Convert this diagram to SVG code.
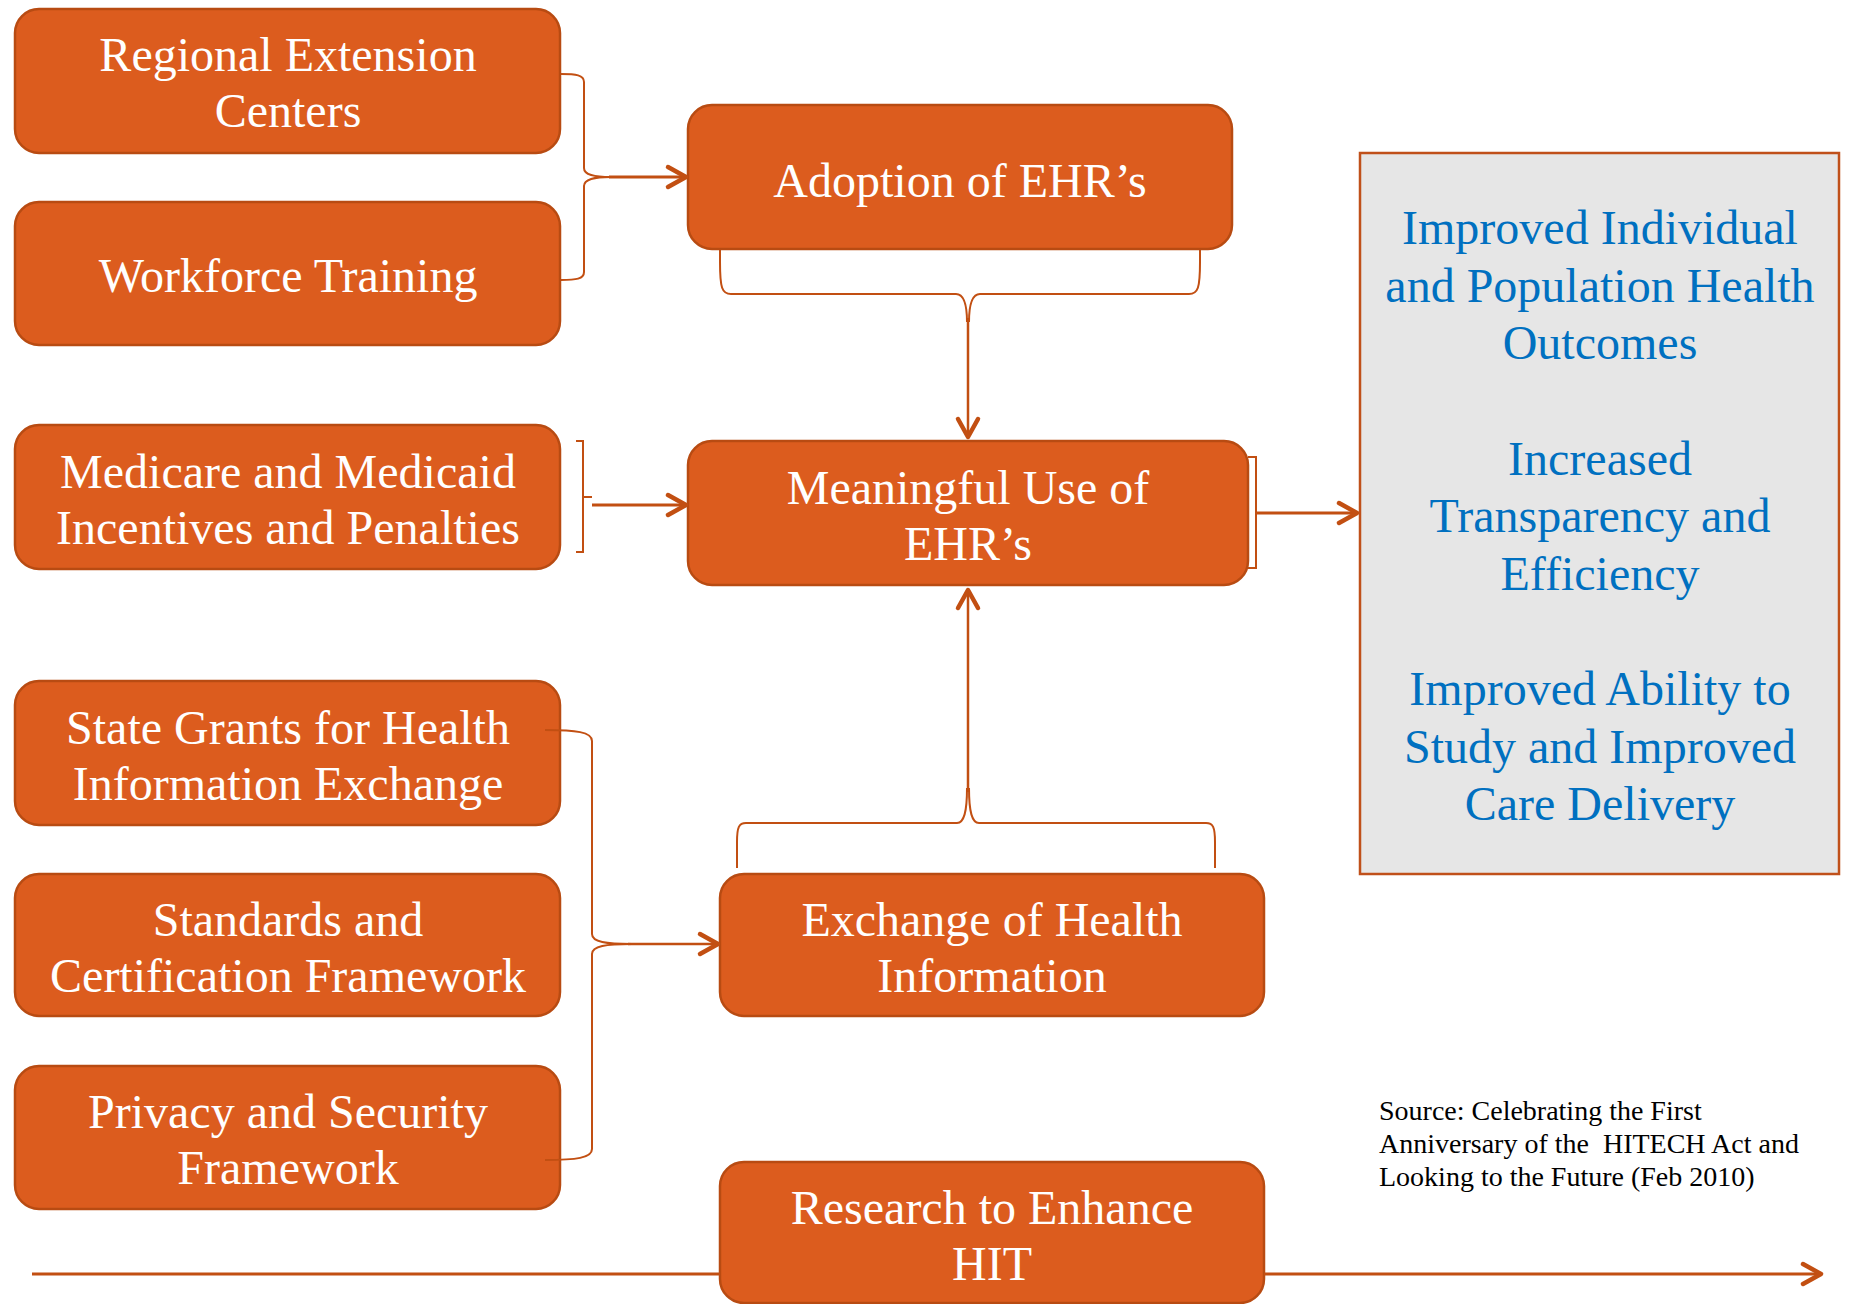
<svg xmlns="http://www.w3.org/2000/svg" width="1851" height="1304" viewBox="0 0 1851 1304">
<style>
.box{fill:#DC5C1E;stroke:#B84B12;stroke-width:2.5}
.out{fill:#E6E6E6;stroke:#C0501A;stroke-width:2.5}
.t{font-family:"Liberation Serif","Times New Roman",serif;font-size:48px;fill:#FFFFFF;text-anchor:middle}
.b{font-family:"Liberation Serif","Times New Roman",serif;font-size:48px;fill:#0070C0;text-anchor:middle}
.src{font-family:"Liberation Serif","Times New Roman",serif;font-size:28px;fill:#000000;white-space:pre}
.br{fill:none;stroke:#C24F12;stroke-width:2}
.ar{fill:none;stroke:#C24F12;stroke-width:3;marker-end:url(#arr)}
</style>
<defs>
<marker id="arr" markerUnits="userSpaceOnUse" markerWidth="30" markerHeight="30" viewBox="-25 -15 30 30" refX="0" refY="0" orient="auto" overflow="visible">
<path d="M-19,-10 L-1,0 L-19,10" fill="none" stroke="#C24F12" stroke-width="4.5" stroke-linecap="round" stroke-linejoin="round"/>
</marker>
</defs>
<rect width="1851" height="1304" fill="#FFFFFF"/>

<g id="regional"><rect class="box" x="15" y="9" width="545" height="144" rx="24"/><text class="t" x="288" y="71">Regional Extension</text><text class="t" x="288" y="127">Centers</text></g>
<g id="workforce"><rect class="box" x="15" y="202" width="545" height="143" rx="24"/><text class="t" x="288" y="292">Workforce Training</text></g>
<g id="medicare"><rect class="box" x="15" y="425" width="545" height="144" rx="24"/><text class="t" x="288" y="488">Medicare and Medicaid</text><text class="t" x="288" y="544">Incentives and Penalties</text></g>
<g id="stategrants"><rect class="box" x="15" y="681" width="545" height="144" rx="24"/><text class="t" x="288" y="744">State Grants for Health</text><text class="t" x="288" y="800">Information Exchange</text></g>
<g id="standards"><rect class="box" x="15" y="874" width="545" height="142" rx="24"/><text class="t" x="288" y="936">Standards and</text><text class="t" x="288" y="992">Certification Framework</text></g>
<g id="privacy"><rect class="box" x="15" y="1066" width="545" height="143" rx="24"/><text class="t" x="288" y="1128">Privacy and Security</text><text class="t" x="288" y="1184">Framework</text></g>

<g id="adoption"><rect class="box" x="688" y="105" width="544" height="144" rx="24"/><text class="t" x="960" y="197">Adoption of EHR’s</text></g>
<g id="meaningful"><rect class="box" x="688" y="441" width="560" height="144" rx="24"/><text class="t" x="968" y="504">Meaningful Use of</text><text class="t" x="968" y="560">EHR’s</text></g>
<g id="exchange"><rect class="box" x="720" y="874" width="544" height="142" rx="24"/><text class="t" x="992" y="936">Exchange of Health</text><text class="t" x="992" y="992">Information</text></g>
<g id="research"><rect class="box" x="720" y="1162" width="544" height="141" rx="24"/><text class="t" x="992" y="1224">Research to Enhance</text><text class="t" x="992" y="1280">HIT</text></g>

<g id="outcomes"><rect class="out" x="1360" y="153" width="479" height="721"/>
<text class="b" x="1600" y="244">Improved Individual</text>
<text class="b" x="1600" y="302">and Population Health</text>
<text class="b" x="1600" y="359">Outcomes</text>
<text class="b" x="1600" y="475">Increased</text>
<text class="b" x="1600" y="532">Transparency and</text>
<text class="b" x="1600" y="590">Efficiency</text>
<text class="b" x="1600" y="705">Improved Ability to</text>
<text class="b" x="1600" y="763">Study and Improved</text>
<text class="b" x="1600" y="820">Care Delivery</text>
</g>

<g id="source"><text class="src" x="1379" y="1120">Source: Celebrating the First</text><text class="src" x="1379" y="1153">Anniversary of the  HITECH Act and</text><text class="src" x="1379" y="1186">Looking to the Future (Feb 2010)</text></g>

<g id="connectors">
<path class="br" d="M561,74 C576,74 584,75 584,82 L584,168 C584,175 594,177 611,177"/>
<path class="br" d="M561,280 C576,280 584,279 584,272 L584,186 C584,179 594,177 611,177"/>
<path class="ar" d="M609,177 L687,177"/>

<path class="br" d="M720,250 L720,262 C720,288 722,294 731,294 L956,294 C963,294 967,302 967,322"/>
<path class="br" d="M1200,250 L1200,262 C1200,288 1198,294 1189,294 L980,294 C973,294 969,302 969,322"/>
<path class="ar" style="stroke-width:2.5" d="M968,318 L968,438"/>

<path class="br" d="M576,441 L583,441 L583,552 L576,552 M583,497 L592,497"/>
<path class="ar" d="M592,505 L687,505"/>

<path class="br" d="M1248,457 L1256,457 L1256,568 L1248,568"/>
<path class="ar" d="M1256,513 L1358,513"/>

<path class="br" d="M545,730 C576,730 592,732 592,741 L592,934 C592,942 606,944 632,944"/>
<path class="br" d="M545,1160 C576,1160 592,1158 592,1149 L592,954 C592,946 606,944 632,944"/>
<path class="ar" style="stroke-width:2.5" d="M628,944 L719,944"/>

<path class="br" d="M737,868 L737,842 C737,827 739,823 746,823 L957,823 C964,823 967,812 967,788"/>
<path class="br" d="M1215,868 L1215,842 C1215,827 1213,823 1206,823 L979,823 C972,823 969,812 969,788"/>
<path class="ar" style="stroke-width:2.5" d="M968,792 L968,589"/>

<path class="br" style="stroke-width:3" d="M32,1274 L720,1274"/>
<path class="ar" d="M1264,1274 L1822,1274"/>
</g>
</svg>
